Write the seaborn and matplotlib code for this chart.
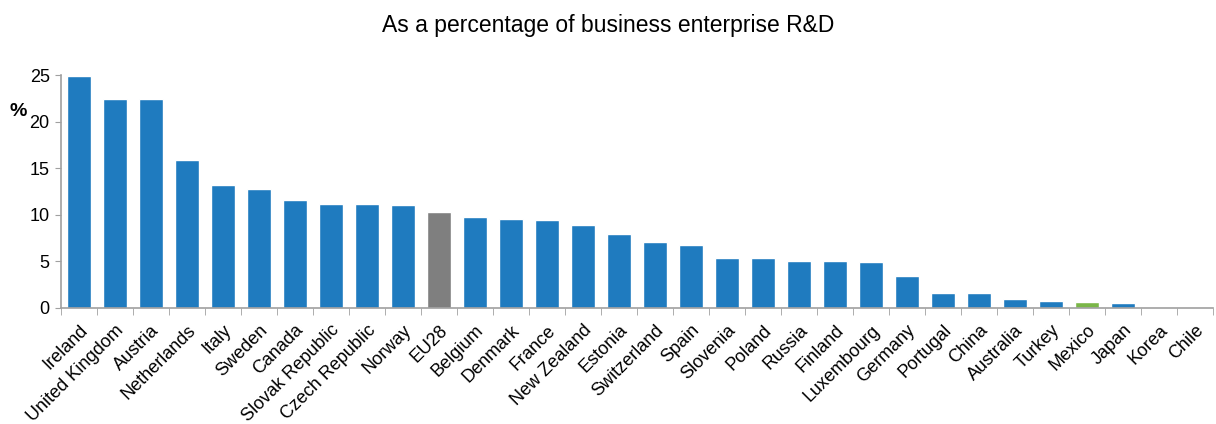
import matplotlib
matplotlib.use('Agg')
import matplotlib.pyplot as plt
import seaborn as sns
import pandas as pd

# Values
countries = ['Ireland', 'United Kingdom', 'Austria', 'Netherlands', 'Italy', 'Sweden',
             'Canada', 'Slovak Republic', 'Czech Republic', 'Norway', 'EU28', 'Belgium',
             'Denmark', 'France', 'New Zealand', 'Estonia', 'Switzerland', 'Spain',
             'Slovenia', 'Poland', 'Russia', 'Finland', 'Luxembourg', 'Germany',
             'Portugal', 'China', 'Australia', 'Turkey', 'Mexico', 'Japan', 'Korea', 'Chile']
share = [24.9, 22.4, 22.4, 15.9, 13.2, 12.8, 11.6, 11.1, 11.1, 11.0, 10.3, 9.8,
         9.5, 9.4, 8.9, 7.9, 7.1, 6.8, 5.4, 5.3, 5.0, 5.0, 4.9, 3.4,
         1.6, 1.6, 0.9, 0.75, 0.65, 0.55, 0.1, 0.0]

blue, grey, green = '#1f7bbf', '#7f7f7f', '#7ab648'
colors = [grey if c == 'EU28' else green if c == 'Mexico' else blue for c in countries]

df = pd.DataFrame({'Country': countries, 'Share': share})

sns.set_style('white')
plt.rcParams['font.family'] = ['Liberation Sans', 'DejaVu Sans']
plt.rcParams['text.color'] = 'black'
plt.rcParams['xtick.color'] = 'black'
plt.rcParams['ytick.color'] = 'black'

fig = plt.figure(figsize=(12.16, 4.24), dpi=100)
ax = fig.add_axes([0.050, 0.274, 0.9475, 0.549])

sns.barplot(data=df, x='Country', y='Share', hue='Country', palette=colors,
            legend=False, width=0.67, saturation=1, ax=ax)

ax.set_xlim(-0.5, len(countries) - 0.5)
ax.set_ylim(0, 25)
ax.set_yticks([0, 5, 10, 15, 20, 25])
ax.tick_params(axis='y', labelsize=13, length=4, color='#a0a0a0', labelcolor='black',
               left=True, pad=4)

# category labels centred on bars, tick marks between categories
ax.set_xticks(range(len(countries)))
ax.set_xticklabels(countries, rotation=45, ha='right', rotation_mode='anchor',
                   fontsize=13, color='black')
ax.tick_params(axis='x', length=0, pad=10)
ax.set_xticks([i - 0.5 for i in range(len(countries) + 1)], minor=True)
ax.tick_params(axis='x', which='minor', length=5, color='#a0a0a0', bottom=True)

for side in ['top', 'right']:
    ax.spines[side].set_visible(False)
for side in ['left', 'bottom']:
    ax.spines[side].set_color('#a0a0a0')
    ax.spines[side].set_linewidth(1.2)

ax.set_xlabel('')
ax.set_ylabel('')
fig.text(0.008, 0.727, '%', fontsize=14, fontweight='bold')
fig.suptitle('As a percentage of business enterprise R&D', fontsize=16.5,
             y=0.94, va='center')

fig.savefig('out.png', dpi=100)
